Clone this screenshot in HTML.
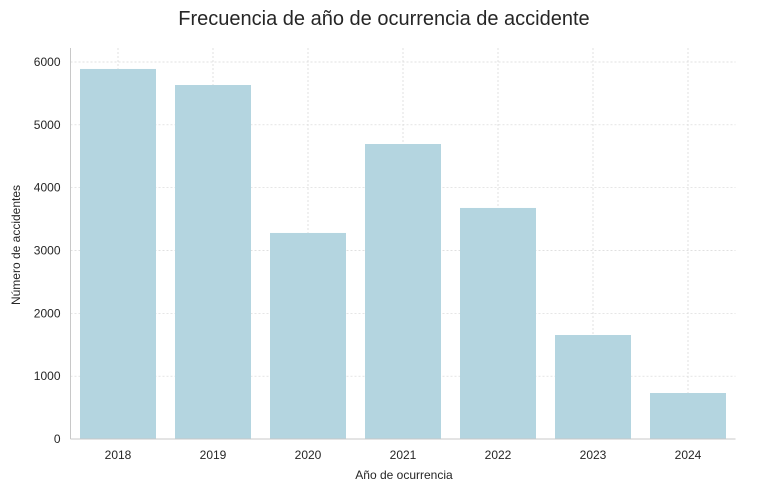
<!DOCTYPE html>
<html><head><meta charset="utf-8"><style>
body{margin:0;background:#fff;}
svg{display:block;font-family:"Liberation Sans",Arial,sans-serif;}
</style></head><body>
<svg id="chart" width="758" height="492">
<text x="384" y="25" text-anchor="middle" font-size="20" fill="#262626">Frecuencia de año de ocurrencia de accidente</text>
<g id="grid"></g><g id="bars"></g><g id="axes"></g>
<text x="404" y="479" text-anchor="middle" font-size="12" fill="#262626">Año de ocurrencia</text>
<text transform="translate(20,245) rotate(-90)" text-anchor="middle" font-size="12" fill="#262626">Número de accidentes</text>
</svg>
<script>
const categories=["2018","2019","2020","2021","2022","2023","2024"];
const values=[5889,5634,3279,4695,3677,1655,732];
const yTicks=[0,1000,2000,3000,4000,5000,6000];
const NS="http://www.w3.org/2000/svg";
const L=70.5,R=735.5,B=439,T=62;
const y=v=>B-(v/6000)*(B-T);
const step=(R-L)/categories.length;
const x=i=>L+step*i;
function mk(tag,attrs,parent,text){const e=document.createElementNS(NS,tag);for(const k in attrs)e.setAttribute(k,attrs[k]);if(text!==undefined)e.textContent=text;document.getElementById(parent).appendChild(e);return e;}
yTicks.forEach(t=>{
 const g=mk("line",{x1:L,x2:R,y1:y(t),y2:y(t),stroke:"#d6d6d6","stroke-dasharray":"2,2","stroke-width":0.7},"grid");
 
 
 const lb=mk("text",{x:L-10,y:y(t)+4,"text-anchor":"end","font-size":12,fill:"#262626"},"axes",String(t));
 
 
});
categories.forEach((c,i)=>{
 const cx=x(i)+step/2;
 const g=mk("line",{x1:cx,x2:cx,y1:T-14,y2:B,stroke:"#d6d6d6","stroke-dasharray":"2,2","stroke-width":0.7},"grid");
 
 
 const w=step*0.8;
 const b=mk("rect",{x:cx-w/2,y:y(values[i]),width:w,height:B-y(values[i]),fill:"#b4d5e0"},"bars");
 
 
 const lb=mk("text",{x:cx,y:B+20,"text-anchor":"middle","font-size":12,fill:"#262626"},"axes",c);
 
 
});
const hy=mk("line",{x1:L,x2:L,y1:T-14,y2:B,stroke:"#c8c8c8","stroke-width":1},"axes");


const hx=mk("line",{x1:L,x2:R,y1:B,y2:B,stroke:"#c8c8c8","stroke-width":1},"axes");


</script>
</body></html>
